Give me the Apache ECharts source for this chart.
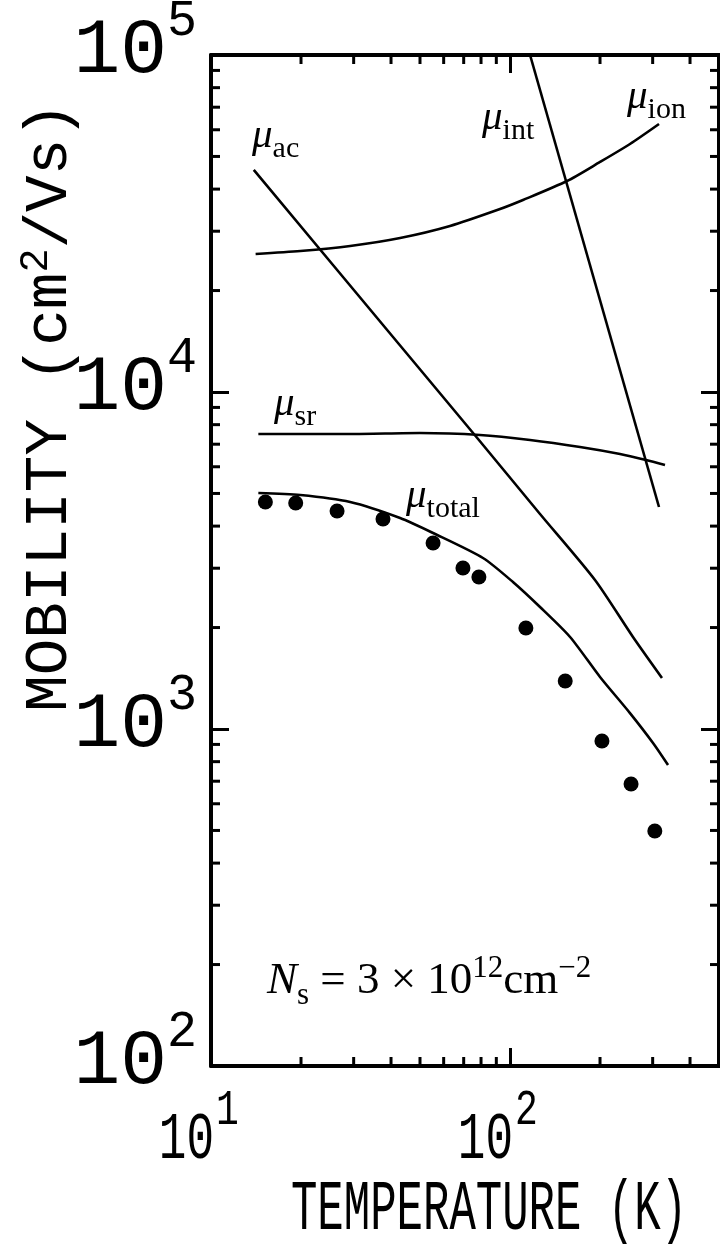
<!DOCTYPE html>
<html>
<head>
<meta charset="utf-8">
<script src="https://cdn.jsdelivr.net/npm/echarts@6/dist/echarts.min.js"></script>
<style>
  html, body { margin: 0; padding: 0; background: #fff; }
  #chart { width: 720px; height: 1259px; }
</style>
</head>
<body>
<div id="chart"></div>
<script>
// Axis ranges and tick values
const X_MIN = 10, X_MAX = 500;
const Y_MIN = 100, Y_MAX = 100000;
const xMajorTicks = [10, 100];
const xMinorTicks = [20, 30, 40, 50, 60, 70, 80, 90, 200, 300, 400];
const yMajorTicks = [100, 1000, 10000, 100000];
const yMinorTicks = [200, 300, 400, 500, 600, 700, 800, 900,
                     2000, 3000, 4000, 5000, 6000, 7000, 8000, 9000,
                     20000, 30000, 40000, 50000, 60000, 70000, 80000, 90000];

// Acoustic-phonon limited mobility
const tAc  = [13.9, 42.9, 78.2, 126.0, 192.4, 257.8, 322.3];
const muAc = [45600, 13740, 7254, 4345, 2768, 1875, 1417];

// Ionized-impurity limited mobility
const tIon  = [14.1, 19.9, 29.2, 42.9, 63.0, 92.6, 110.5, 155.1, 200.0, 251.9, 315.0];
const muIon = [25670, 26200, 27120, 28640, 31090, 34910, 37130, 42270, 48140, 54440, 62410];

// Interface-phonon limited mobility
const tInt  = [116.7, 315.0];
const muInt = [100000, 4558];

// Surface-roughness limited mobility
const tSr  = [14.4, 29.2, 50.0, 79.4, 116.7, 171.5, 233.3, 285.0, 329.9];
const muSr = [7505, 7505, 7556, 7454, 7205, 6868, 6547, 6284, 6073];

// Total (Matthiessen) mobility
const tTot  = [14.4, 19.9, 29.2, 42.9, 55.3, 81.2, 102.3, 126.0, 158.8, 200.0, 251.9, 300.8, 337.7];
const muTot = [5015, 4947, 4716, 4227, 3815, 3217, 2730, 2301, 1875, 1427, 1115, 909, 782];

// Measured Hall mobility
const tMeas  = [15.2, 19.2, 26.4, 37.6, 55.3, 69.6, 78.7, 113, 153, 203, 254, 305];
const muMeas = [4716, 4684, 4434, 4198, 3564, 3004, 2825, 1993, 1388, 921, 687, 498];

const pairs = (xs, ys) => xs.map((x, i) => [x, ys[i]]);

const INK = '#000';
const MONO = '"Liberation Mono", "DejaVu Sans Mono", monospace';
const SERIF = '"Liberation Serif", "DejaVu Serif", serif';

const chart = echarts.init(document.getElementById('chart'), null, { renderer: 'canvas' });

function logAxis(min, max, position) {
  return {
    type: 'log', logBase: 10, min: min, max: max, position: position,
    axisLine: { show: true, onZero: false, lineStyle: { color: INK, width: 4 } },
    axisTick: { show: true, inside: true, length: 18, lineStyle: { color: INK, width: 3 } },
    axisLabel: { show: false },
    splitLine: { show: false },
    minorTick: { show: false }
  };
}

function curve(name, xs, ys) {
  return {
    name: name, type: 'line', data: pairs(xs, ys),
    showSymbol: false, symbol: 'none', smooth: 0.25, clip: true,
    lineStyle: { color: INK, width: 2.6, opacity: 1 },
    xAxisIndex: 0, yAxisIndex: 0, z: 3
  };
}

// short inward ticks at the 2..9 positions of every decade, on both sides of the frame
const minorTickX = {
  type: 'custom', xAxisIndex: 0, yAxisIndex: 0, silent: true, clip: false, z: 5,
  data: xMinorTicks.map(v => [v, Y_MIN]),
  renderItem: function (params, api) {
    const x = api.coord([api.value(0), Y_MIN])[0];
    const cs = params.coordSys;
    const st = { stroke: INK, lineWidth: 3 };
    return { type: 'group', children: [
      { type: 'line', shape: { x1: x, y1: cs.y + cs.height, x2: x, y2: cs.y + cs.height - 9 }, style: st },
      { type: 'line', shape: { x1: x, y1: cs.y, x2: x, y2: cs.y + 9 }, style: st }
    ] };
  }
};
const minorTickY = {
  type: 'custom', xAxisIndex: 0, yAxisIndex: 0, silent: true, clip: false, z: 5,
  data: yMinorTicks.map(v => [X_MIN, v]),
  renderItem: function (params, api) {
    const y = api.coord([X_MIN, api.value(1)])[1];
    const cs = params.coordSys;
    const st = { stroke: INK, lineWidth: 3 };
    return { type: 'group', children: [
      { type: 'line', shape: { x1: cs.x, y1: y, x2: cs.x + 9, y2: y }, style: st },
      { type: 'line', shape: { x1: cs.x + cs.width, y1: y, x2: cs.x + cs.width - 9, y2: y }, style: st }
    ] };
  }
};

const option = {
  animation: false,
  backgroundColor: '#fff',
  grid: { left: 211, right: 1, top: 55, bottom: 193, containLabel: false, outerBoundsMode: 'none' },
  xAxis: [logAxis(X_MIN, X_MAX, 'bottom'), logAxis(X_MIN, X_MAX, 'top')],
  yAxis: [logAxis(Y_MIN, Y_MAX, 'left'), logAxis(Y_MIN, Y_MAX, 'right')],
  series: [
    curve('μac', tAc, muAc),
    curve('μion', tIon, muIon),
    curve('μint', tInt, muInt),
    curve('μsr', tSr, muSr),
    curve('μtotal', tTot, muTot),
    {
      name: 'measured', type: 'scatter', data: pairs(tMeas, muMeas),
      symbol: 'circle', symbolSize: 15, itemStyle: { color: INK, opacity: 1 },
      xAxisIndex: 0, yAxisIndex: 0, z: 4
    },
    minorTickX, minorTickY
  ]
};
chart.setOption(option);

// Power-of-ten tick labels: mantissa "10" and a raised exponent, placed through the axis scales
function txt(x, y, s, size, sy, align, vAlign) {
  return {
    type: 'text', x: x, y: y, scaleY: sy, z: 10,
    style: { text: s, fontFamily: MONO, fontSize: size, fill: INK, align: align, verticalAlign: vAlign }
  };
}
const labels = [];
xMajorTicks.forEach(v => {
  const p = chart.convertToPixel({ xAxisIndex: 0, yAxisIndex: 0 }, [v, Y_MIN]);
  const e = String(Math.round(Math.log10(v)));
  labels.push(txt(p[0] + 3, p[1] + 108, '10', 46, 1.45, 'right', 'bottom'));
  labels.push(txt(p[0] + 5, p[1] + 20, e, 38, 1.3, 'left', 'top'));
});
yMajorTicks.forEach(v => {
  const p = chart.convertToPixel({ xAxisIndex: 0, yAxisIndex: 0 }, [X_MIN, v]);
  const e = String(Math.round(Math.log10(v)));
  labels.push(txt(p[0] - 44, p[1] + 35, '10', 78, 1.0, 'right', 'bottom'));
  labels.push(txt(p[0] - 44, p[1] - 60, e, 50, 1.05, 'left', 'top'));
});

// Axis titles
labels.push({
  type: 'text', x: 489, y: 1210, scaleY: 1.6, z: 10,
  style: { text: 'TEMPERATURE (K)', fontFamily: MONO, fontSize: 44, fill: INK, align: 'center', verticalAlign: 'middle' }
});
labels.push({
  type: 'text', x: 48, y: 407, rotation: Math.PI / 2, z: 10,
  style: {
    text: '{t|MOBILITY (cm}{u|2}{t|/Vs)}',
    rich: {
      t: { fontFamily: MONO, fontSize: 61, color: INK, verticalAlign: 'bottom' },
      u: { fontFamily: MONO, fontSize: 40, color: INK, verticalAlign: 'bottom', padding: [0, 0, 24, 0] }
    },
    align: 'center', verticalAlign: 'middle'
  }
});

// Curve annotations
function muLabel(x, y, sub) {
  return {
    type: 'text', x: x, y: y, z: 10,
    style: {
      text: '{m|μ}{s|' + sub + '}',
      rich: {
        m: { fontFamily: SERIF, fontStyle: 'italic', fontSize: 41, color: INK, verticalAlign: 'bottom', padding: [0, 0, 7, 0] },
        s: { fontFamily: SERIF, fontSize: 30, color: INK, verticalAlign: 'bottom' }
      },
      align: 'left', verticalAlign: 'middle'
    }
  };
}
labels.push(muLabel(252, 140, 'ac'));
labels.push(muLabel(482, 122, 'int'));
labels.push(muLabel(627, 101, 'ion'));
labels.push(muLabel(274, 408, 'sr'));
labels.push(muLabel(406, 500, 'total'));

labels.push({
  type: 'text', x: 267, y: 982, z: 10,
  style: {
    text: '{i|N}{s|s}{m| = 3 × 10}{p|12}{m|cm}{p|−2}',
    rich: {
      i: { fontFamily: SERIF, fontStyle: 'italic', fontSize: 45, color: INK, verticalAlign: 'bottom', padding: [0, 0, 7, 0] },
      s: { fontFamily: SERIF, fontSize: 31, color: INK, verticalAlign: 'bottom' },
      m: { fontFamily: SERIF, fontSize: 45, color: INK, verticalAlign: 'bottom', padding: [0, 0, 7, 0] },
      p: { fontFamily: SERIF, fontSize: 31, color: INK, verticalAlign: 'bottom', padding: [0, 0, 27, 0] }
    },
    align: 'left', verticalAlign: 'middle'
  }
});

chart.setOption({ graphic: labels });
</script>
</body>
</html>
